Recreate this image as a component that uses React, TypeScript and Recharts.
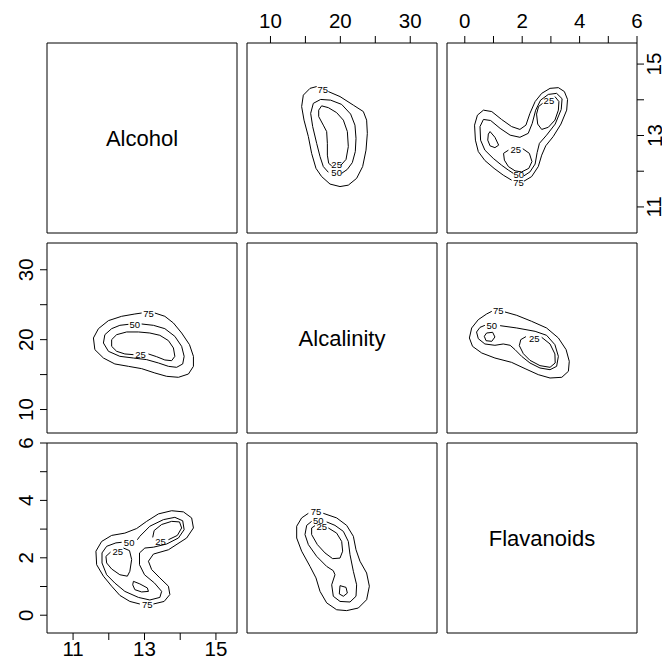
import React from "react";
import { ComposedChart, Scatter, XAxis, YAxis, ReferenceArea } from "recharts";

const FONT = "'Liberation Sans', Arial, Helvetica, sans-serif";

// variables on the diagonal
const variables = ["Alcohol", "Alcalinity", "Flavanoids"];

// axis ranges and ticks
const alcoholDomain: [number, number] = [10.27, 15.59];
const alcalinityDomain: [number, number] = [6.64, 33.83];
const flavanoidsDomain: [number, number] = [-0.62, 6.0];
const alcoholTicks = [11, 12, 13, 14, 15];
const alcalinityTicks = [10, 15, 20, 25, 30];
const flavanoidsTicks = [0, 1, 2, 3, 4, 5, 6];
const alcoholTickLabels = [11, 13, 15];
const alcalinityTickLabels = [10, 20, 30];
const flavanoidsTickLabels = [0, 2, 4, 6];

// contour levels (x, y)
// x = Alcalinity, y = Alcohol
const alkAlc75 = [[18.28,14.23],[19.95,14.09],[21.86,13.85],[23.29,13.67],[23.76,13.43],[23.86,13.06],[23.67,12.59],[23.19,12.13],[22.33,11.8],[21.14,11.61],[19.95,11.57],[18.52,11.64],[17.32,11.85],[16.51,12.08],[15.89,12.5],[15.42,12.97],[14.8,13.43],[14.46,13.81],[14.7,14.13],[15.66,14.32],[16.61,14.37]];
const alkAlc50 = [[20.19,11.94],[20.99,12.05],[21.71,12.24],[22.14,12.55],[22.24,12.92],[22.09,13.29],[21.47,13.6],[20.19,13.87],[18.61,13.99],[17.18,14.01],[16.13,13.9],[15.75,13.62],[16.04,13.25],[16.61,12.78],[17.09,12.41],[17.56,12.13],[18.28,11.97]];
const alkAlc25 = [[20.09,12.17],[20.81,12.33],[21.14,12.69],[21.0,13.11],[20.43,13.43],[19.47,13.64],[18.28,13.78],[17.32,13.83],[16.9,13.71],[16.9,13.53],[17.56,13.29],[18.04,13.11],[18.14,12.78],[18.14,12.45],[18.33,12.22],[18.76,12.15]];
const alkAlcLabels = [{ x: 17.47, y: 14.29, text: "75" }, { x: 19.47, y: 11.96, text: "50" }, { x: 19.47, y: 12.2, text: "25" }];

// x = Flavanoids, y = Alcohol
const flavAlc75 = [[2.06,11.72],[2.33,11.85],[2.56,12.13],[2.68,12.45],[2.82,12.71],[3.08,12.97],[3.35,13.32],[3.55,13.71],[3.58,14.01],[3.47,14.23],[3.26,14.34],[2.97,14.32],[2.68,14.18],[2.45,13.95],[2.27,13.62],[2.13,13.29],[1.92,13.17],[1.63,13.25],[1.28,13.45],[0.94,13.67],[0.65,13.71],[0.44,13.57],[0.34,13.29],[0.37,12.87],[0.47,12.55],[0.7,12.3],[1.02,12.08],[1.34,11.89],[1.63,11.75]];
const flavAlc50 = [[2.06,11.87],[2.27,11.98],[2.45,12.2],[2.52,12.52],[2.6,12.78],[2.85,13.01],[3.15,13.32],[3.36,13.73],[3.39,14.03],[3.2,14.18],[2.91,14.15],[2.64,13.99],[2.47,13.71],[2.35,13.34],[2.21,13.06],[1.92,12.95],[1.58,13.01],[1.23,13.2],[0.9,13.42],[0.65,13.45],[0.53,13.25],[0.55,12.87],[0.7,12.59],[0.99,12.36],[1.28,12.17],[1.52,12.03],[1.69,11.94]];
const flavAlc25a = [[2.02,12.63],[2.25,12.5],[2.34,12.27],[2.23,12.08],[1.98,11.98],[1.75,12.01],[1.52,12.13],[1.38,12.31],[1.35,12.5],[1.52,12.59]];
const flavAlc25b = [[3.14,14.09],[3.28,13.95],[3.26,13.71],[3.14,13.43],[2.91,13.23],[2.68,13.17],[2.54,13.32],[2.5,13.6],[2.57,13.81],[2.71,13.9]];
const flavAlc25c = [[0.88,13.11],[1.05,12.95],[1.18,12.73],[1.05,12.66],[0.88,12.71],[0.8,12.87],[0.82,13.04],[0.88,13.11]];
const flavAlcLabels = [{ x: 1.87, y: 11.69, text: "75" }, { x: 1.88, y: 11.9, text: "50" }, { x: 1.78, y: 12.61, text: "25" }, { x: 2.93, y: 13.97, text: "25" }];

// x = Alcohol, y = Alcalinity
const alcAlk75 = [[13.29,23.81],[13.57,23.34],[13.81,22.38],[14.04,20.95],[14.26,19.28],[14.37,17.61],[14.37,16.18],[14.23,15.08],[13.95,14.61],[13.62,14.75],[13.29,15.23],[12.92,15.85],[12.55,16.18],[12.17,16.52],[11.85,17.37],[11.61,18.57],[11.57,20.24],[11.71,21.57],[11.99,22.72],[12.36,23.34],[12.73,23.67],[12.92,23.81]];
const alcAlk50 = [[12.92,22.24],[13.25,22.05],[13.57,21.57],[13.85,20.47],[14.04,19.04],[14.11,17.61],[14.07,16.52],[13.9,16.04],[13.67,16.18],[13.39,16.66],[13.06,17.14],[12.69,17.37],[12.31,17.61],[11.99,18.33],[11.85,19.52],[11.89,20.71],[12.08,21.57],[12.31,22.05],[12.55,22.19]];
const alcAlk25 = [[13.11,17.95],[13.34,17.56],[13.57,17.09],[13.76,16.99],[13.85,17.61],[13.81,18.81],[13.67,19.86],[13.43,20.62],[13.15,20.95],[12.83,21.1],[12.5,21.1],[12.22,20.71],[12.08,20.0],[12.08,19.04],[12.22,18.33],[12.45,17.95],[12.69,17.85]];
const alcAlkLabels = [{ x: 13.11, y: 23.81, text: "75" }, { x: 12.73, y: 22.14, text: "50" }, { x: 12.89, y: 17.85, text: "25" }];

// x = Flavanoids, y = Alcalinity
const flavAlk75 = [[1.4,23.96],[1.81,23.48],[2.33,22.62],[2.85,21.67],[3.26,20.24],[3.53,18.57],[3.64,16.9],[3.61,15.47],[3.38,14.61],[2.97,14.51],[2.56,14.99],[2.1,15.85],[1.63,16.75],[1.05,17.37],[0.59,18.09],[0.27,19.04],[0.16,20.24],[0.24,21.67],[0.47,22.86],[0.76,23.67],[0.94,24.05]];
const flavAlk50 = [[1.23,22.0],[1.81,21.67],[2.45,21.19],[2.85,20.62],[3.14,19.28],[3.26,17.61],[3.2,16.18],[2.97,15.7],[2.62,15.94],[2.27,16.66],[1.98,17.61],[1.75,18.57],[1.58,19.19],[1.34,19.38],[1.05,19.19],[0.7,19.38],[0.47,20.14],[0.41,21.09],[0.53,21.76],[0.7,22.05]];
const flavAlk25a = [[2.68,20.33],[2.97,19.38],[3.14,17.95],[3.15,16.66],[2.97,16.04],[2.62,16.28],[2.27,17.04],[2.04,17.99],[1.9,19.14],[1.95,20.0],[2.13,20.43]];
const flavAlk25b = [[0.76,20.95],[0.97,21.05],[1.05,20.38],[0.94,19.76],[0.74,19.85],[0.68,20.48],[0.76,20.95]];
const flavAlkLabels = [{ x: 1.17, y: 24.15, text: "75" }, { x: 0.94, y: 22.05, text: "50" }, { x: 2.42, y: 20.14, text: "25" }];

// x = Alcohol, y = Flavanoids
const alcFlav75 = [[13.25,0.39],[13.55,0.48],[13.71,0.72],[13.67,1.01],[13.43,1.3],[13.2,1.59],[13.11,1.88],[13.25,2.13],[13.67,2.28],[14.18,2.69],[14.37,3.04],[14.32,3.39],[14.09,3.6],[13.76,3.64],[13.39,3.53],[13.06,3.27],[12.78,3.02],[12.45,2.86],[12.08,2.78],[11.8,2.57],[11.64,2.23],[11.66,1.76],[11.85,1.36],[12.08,1.01],[12.31,0.69],[12.59,0.48],[12.87,0.39]];
const alcFlav50 = [[12.8,2.63],[12.87,2.75],[13.15,3.1],[13.53,3.33],[13.85,3.41],[14.07,3.29],[14.11,2.98],[13.95,2.69],[13.62,2.48],[13.25,2.37],[13.01,2.34],[12.86,2.17],[12.86,1.76],[13.0,1.41],[13.28,1.12],[13.48,0.83],[13.43,0.62],[13.15,0.53],[12.83,0.62],[12.45,0.83],[12.17,1.12],[11.94,1.41],[11.81,1.82],[11.81,2.17],[11.94,2.4],[12.2,2.52],[12.36,2.54]];
const alcFlav25a = [[13.67,2.63],[13.92,2.78],[14.04,3.04],[13.98,3.25],[13.76,3.27],[13.48,3.16],[13.27,2.95],[13.23,2.71]];
const alcFlav25b = [[12.41,2.34],[12.58,2.25],[12.64,1.94],[12.59,1.53],[12.52,1.36],[12.31,1.41],[12.08,1.61],[11.94,1.82],[11.92,2.05],[12.05,2.2]];
const alcFlav25c = [[12.69,1.18],[12.87,1.09],[13.08,0.95],[13.11,0.83],[12.92,0.81],[12.73,0.89],[12.67,1.06],[12.69,1.18]];
const alcFlavLabels = [{ x: 13.08, y: 0.37, text: "75" }, { x: 12.57, y: 2.54, text: "50" }, { x: 13.45, y: 2.57, text: "25" }, { x: 12.25, y: 2.23, text: "25" }];

// x = Alcalinity, y = Flavanoids
const alkFlav75 = [[17.56,3.55],[19.47,3.39],[20.9,3.13],[21.86,2.75],[22.24,2.28],[22.81,1.88],[23.76,1.47],[24.15,1.01],[23.76,0.54],[22.57,0.25],[20.9,0.16],[19.47,0.19],[18.04,0.43],[17.09,0.83],[16.51,1.3],[15.66,1.7],[14.46,2.23],[13.75,2.69],[13.75,3.1],[14.46,3.39],[15.42,3.55]];
const alkFlav50 = [[18.04,3.25],[19.23,3.13],[20.43,2.92],[21.14,2.57],[21.38,2.11],[21.86,1.53],[22.33,1.06],[22.24,0.66],[21.38,0.46],[19.95,0.48],[18.99,0.66],[18.76,1.06],[19.23,1.41],[18.99,1.55],[18.04,1.7],[16.61,2.05],[15.42,2.46],[14.94,2.81],[15.18,3.13],[15.89,3.27]];
const alkFlav25a = [[18.28,3.04],[19.47,2.86],[20.19,2.57],[20.33,2.23],[19.95,1.99],[18.9,1.97],[17.8,2.17],[16.71,2.46],[15.89,2.81],[15.89,3.04],[16.37,3.12]];
const alkFlav25b = [[19.95,1.03],[20.81,0.97],[21.0,0.77],[20.43,0.66],[19.85,0.74],[19.95,1.03]];
const alkFlavLabels = [{ x: 16.51, y: 3.6, text: "75" }, { x: 16.85, y: 3.29, text: "50" }, { x: 17.33, y: 3.09, text: "25" }];

const PANEL = 190;
const COLS = [47, 247, 447];
const ROWS = [43, 243, 443];
const TOP_H = 43;
const BOTTOM_H = 26;
const LEFT_W = 47;
const RIGHT_W = 25;
const PAD = 12; // room so tick labels at panel corners are not clipped

type Side = "top" | "bottom" | "left" | "right";
type AxisSpec = { side: Side; ticks: number[]; shown: number[] };
type LabelPt = { x: number; y: number; text: string };

const tickText = { fontFamily: FONT, fontSize: 20.5, fill: "#000" };

function makeTick(side: Side, shown: number[]) {
  return (props: any) => {
    const { x, y, payload } = props;
    if (!shown.includes(payload.value)) return <g />;
    if (side === "top")
      return <text x={x} y={y} textAnchor="middle" {...tickText}>{payload.value}</text>;
    if (side === "bottom")
      return <text x={x} y={y + 15} textAnchor="middle" {...tickText}>{payload.value}</text>;
    const tx = side === "left" ? x : x + 13.5;
    return (
      <text x={tx} y={y} transform={`rotate(-90 ${tx} ${y})`} textAnchor="middle" {...tickText}>
        {payload.value}
      </text>
    );
  };
}

function LabelShape(props: any) {
  return (
    <text
      x={props.cx}
      y={props.cy}
      textAnchor="middle"
      dominantBaseline="central"
      fontFamily={FONT}
      fontSize={9.5}
      fill="#000"
    >
      {props.payload.text}
    </text>
  );
}

const toPts = (arr: number[][]) => arr.map(([x, y]) => ({ x, y }));

interface PanelProps {
  row: number;
  col: number;
  xDomain: [number, number];
  yDomain: [number, number];
  lines?: number[][][];
  labels?: LabelPt[];
  title?: string;
  xAxis?: AxisSpec;
  yAxis?: AxisSpec;
}

function Panel({ row, col, xDomain, yDomain, lines = [], labels = [], title, xAxis, yAxis }: PanelProps) {
  const lw = yAxis?.side === "left" ? LEFT_W : 0;
  const rw = yAxis?.side === "right" ? RIGHT_W : 0;
  const th = xAxis?.side === "top" ? TOP_H : 0;
  const bh = xAxis?.side === "bottom" ? BOTTOM_H : 0;
  const left = COLS[col] - lw - PAD;
  const top = ROWS[row] - th - PAD;
  const width = PANEL + lw + rw + 2 * PAD;
  const height = PANEL + th + bh + 2 * PAD;

  return (
    <div style={{ position: "absolute", left, top, width, height }}>
      <ComposedChart width={width} height={height} margin={{ top: PAD, right: PAD, bottom: PAD, left: PAD }}>
        <XAxis
          type="number"
          dataKey="x"
          domain={xDomain}
          allowDataOverflow
          hide={!xAxis}
          orientation={xAxis?.side === "top" ? "top" : "bottom"}
          height={xAxis ? th + bh : 0}
          ticks={xAxis?.ticks}
          interval={0}
          axisLine={false}
          tickLine={{ stroke: "#000", strokeWidth: 1 }}
          tickSize={7}
          tickMargin={xAxis?.side === "top" ? 8 : 1}
          tick={xAxis ? makeTick(xAxis.side, xAxis.shown) : false}
        />
        <YAxis
          type="number"
          dataKey="y"
          domain={yDomain}
          allowDataOverflow
          hide={!yAxis}
          orientation={yAxis?.side === "right" ? "right" : "left"}
          width={yAxis ? lw + rw : 0}
          ticks={yAxis?.ticks}
          interval={0}
          axisLine={false}
          tickLine={{ stroke: "#000", strokeWidth: 1 }}
          tickSize={7}
          tickMargin={yAxis?.side === "left" ? 7 : 4}
          tick={yAxis ? makeTick(yAxis.side, yAxis.shown) : false}
        />
        <ReferenceArea
          x1={xDomain[0]}
          x2={xDomain[1]}
          y1={yDomain[0]}
          y2={yDomain[1]}
          fill="none"
          fillOpacity={0}
          stroke="#000"
          strokeWidth={1}
          label={
            title
              ? { value: title, position: "center", fontFamily: FONT, fontSize: 22, fill: "#000" }
              : undefined
          }
        />
        {lines.map((ln, i) => (
          <Scatter
            key={i}
            data={toPts(ln)}
            line={{ stroke: "#000", strokeWidth: 1 }}
            lineType="joint"
            shape={() => <g />}
            isAnimationActive={false}
          />
        ))}
        {labels.length > 0 && (
          <Scatter data={labels} shape={<LabelShape />} isAnimationActive={false} />
        )}
      </ComposedChart>
    </div>
  );
}

export default function App() {
  return (
    <div
      style={{
        position: "absolute",
        left: 0,
        top: 0,
        width: 662,
        height: 659,
        overflow: "hidden",
        background: "#fff",
      }}
    >
      <Panel row={0} col={0} xDomain={alcoholDomain} yDomain={alcoholDomain} title={variables[0]} />
      <Panel
        row={0}
        col={1}
        xDomain={alcalinityDomain}
        yDomain={alcoholDomain}
        lines={[alkAlc75, alkAlc50, alkAlc25]}
        labels={alkAlcLabels}
        xAxis={{ side: "top", ticks: alcalinityTicks, shown: alcalinityTickLabels }}
      />
      <Panel
        row={0}
        col={2}
        xDomain={flavanoidsDomain}
        yDomain={alcoholDomain}
        lines={[flavAlc75, flavAlc50, flavAlc25a, flavAlc25b, flavAlc25c]}
        labels={flavAlcLabels}
        xAxis={{ side: "top", ticks: flavanoidsTicks, shown: flavanoidsTickLabels }}
        yAxis={{ side: "right", ticks: alcoholTicks, shown: alcoholTickLabels }}
      />
      <Panel
        row={1}
        col={0}
        xDomain={alcoholDomain}
        yDomain={alcalinityDomain}
        lines={[alcAlk75, alcAlk50, alcAlk25]}
        labels={alcAlkLabels}
        yAxis={{ side: "left", ticks: alcalinityTicks, shown: alcalinityTickLabels }}
      />
      <Panel row={1} col={1} xDomain={alcalinityDomain} yDomain={alcalinityDomain} title={variables[1]} />
      <Panel
        row={1}
        col={2}
        xDomain={flavanoidsDomain}
        yDomain={alcalinityDomain}
        lines={[flavAlk75, flavAlk50, flavAlk25a, flavAlk25b]}
        labels={flavAlkLabels}
      />
      <Panel
        row={2}
        col={0}
        xDomain={alcoholDomain}
        yDomain={flavanoidsDomain}
        lines={[alcFlav75, alcFlav50, alcFlav25a, alcFlav25b, alcFlav25c]}
        labels={alcFlavLabels}
        xAxis={{ side: "bottom", ticks: alcoholTicks, shown: alcoholTickLabels }}
        yAxis={{ side: "left", ticks: flavanoidsTicks, shown: flavanoidsTickLabels }}
      />
      <Panel
        row={2}
        col={1}
        xDomain={alcalinityDomain}
        yDomain={flavanoidsDomain}
        lines={[alkFlav75, alkFlav50, alkFlav25a, alkFlav25b]}
        labels={alkFlavLabels}
      />
      <Panel row={2} col={2} xDomain={flavanoidsDomain} yDomain={flavanoidsDomain} title={variables[2]} />
    </div>
  );
}
